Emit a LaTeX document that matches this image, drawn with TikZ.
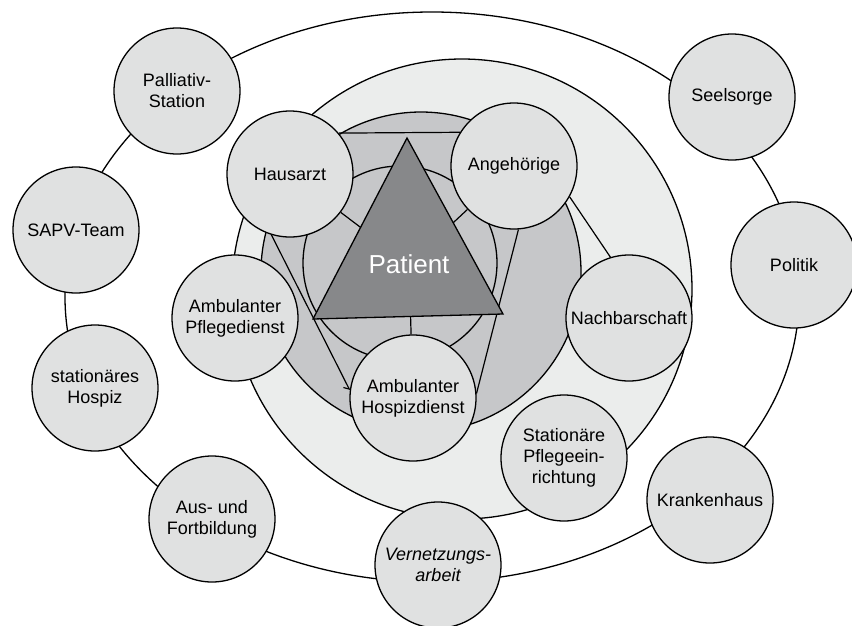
\documentclass[tikz,border=0pt]{standalone}
\usepackage{fontspec}
\setmainfont{Liberation Sans}
\usetikzlibrary{arrows.meta}
\definecolor{memberfill}{HTML}{E0E1E1}
\definecolor{ringlight}{HTML}{EBEDEC}
\definecolor{ringmid}{HTML}{C6C7C9}
\definecolor{patfill}{HTML}{87888A}
\pgfdeclarelayer{back}
\pgfdeclarelayer{links}
\pgfsetlayers{back,links,main}
\tikzset{
  member/.style={circle,draw,line width=1.3pt,fill=memberfill,minimum size=126pt,inner sep=0pt,align=center,font=\fontsize{18}{21}\selectfont},
  ring/.style={draw,line width=1.3pt},
  link/.style={line width=1.2pt}
}

\begin{document}
\begin{tikzpicture}[x=1pt,y=-1pt]
\useasboundingbox (0,0) rectangle (852,625);
% outer members
\node[member] (pall) at (177,91) {Palliativ-\\Station};
\node[member] (sapv) at (76,230) {SAPV-Team};
\node[member] (hosz) at (95,388) {stationäres\\Hospiz};
\node[member] (ausb) at (212,519) {Aus- und\\Fortbildung};
\node[member,font=\fontsize{18}{21}\selectfont\itshape] (netz) at (438,565) {Vernetzungs-\\arbeit};
\node[member] (kran) at (710,500) {Krankenhaus};
\node[member] (poli) at (794,265) {Politik};
\node[member] (seel) at (732,97) {Seelsorge};
% inner members
\node[member] (haus) at (290,174) {Hausarzt};
\node[member] (ange) at (514,166) {Angehörige};
\node[member] (pfle) at (235,318) {Ambulanter\\Pflegedienst};
\node[member] (hosp) at (413,398) {Ambulanter\\Hospizdienst};
\node[member] (nach) at (629,318) {Nachbarschaft};
\node[member] (stat) at (564,458) {Stationäre\\Pflegeein-\\richtung};
% patient
\filldraw[line width=1.3pt,fill=patfill] (407,138) -- (313,319) -- (503,314) -- cycle;
\node[text=white,font=\fontsize{26}{30}\selectfont] (pat) at (409,264) {Patient};

\begin{pgfonlayer}{back}
\draw[ring] (432,297) ellipse [x radius=367,y radius=285];
\draw[ring,fill=ringlight] (462,289) circle [radius=230];
\draw[ring,fill=ringmid] (421,272) circle [radius=160];
\draw[ring,fill=ringmid] (400,263) circle [radius=97];
\end{pgfonlayer}

\begin{pgfonlayer}{links}
\draw[link] (haus.40) -- (ange.148);
\draw[link,-{Straight Barb[right,length=4pt,width=9pt]}] (haus.253) -- (hosp.173);
\draw[link] (ange.274) -- (hosp.4);
\draw[link] (ange.331) -- (nach.107);
\draw[link] (haus) -- (pat);
\draw[link] (ange) -- (pat);
\draw[link] (hosp) -- (pat);
\end{pgfonlayer}
\end{tikzpicture}
\end{document}
